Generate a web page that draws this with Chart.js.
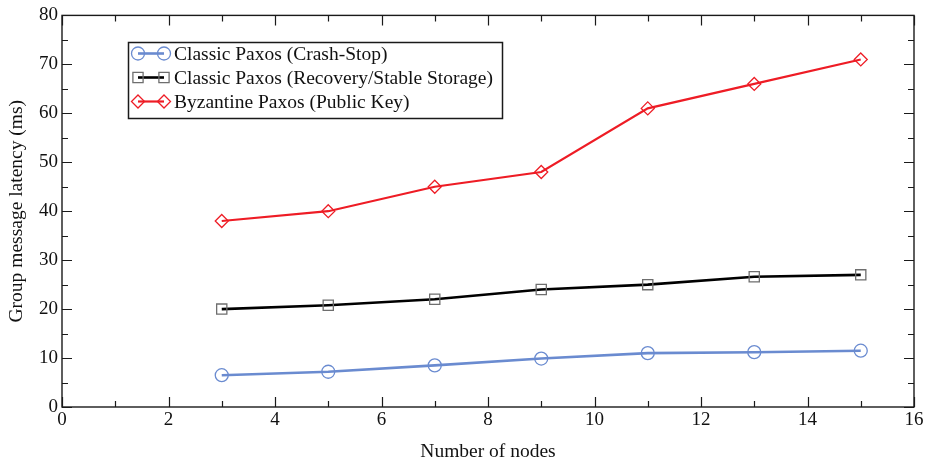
<!DOCTYPE html>
<html>
<head>
<meta charset="utf-8">
<script src="https://cdn.jsdelivr.net/npm/chart.js@4.4.1/dist/chart.umd.min.js"></script>
<style>
  html, body { margin: 0; padding: 0; background: #fff; }
  #wrap { width: 927px; height: 464px; }
</style>
</head>
<body>
<div id="wrap"><canvas id="c" width="927" height="464"></canvas></div>
<script>
// Number of nodes in the group
const nodes = [3, 5, 7, 9, 11, 13, 15];

// Group message latency (ms) per protocol
const crashStop = [6.5, 7.2, 8.5, 9.9, 11.0, 11.2, 11.5];
const recoveryStable = [20.0, 20.8, 22.0, 24.0, 25.0, 26.6, 27.0];
const byzantinePk = [38, 40, 45, 48, 61, 66, 71];

const seriesNames = [
  'Classic Paxos (Crash-Stop)',
  'Classic Paxos (Recovery/Stable Storage)',
  'Byzantine Paxos (Public Key)'
];

const xTickValues = [0, 2, 4, 6, 8, 10, 12, 14, 16];
const yTickValues = [0, 10, 20, 30, 40, 50, 60, 70, 80];

const FONT = '"Liberation Serif", "Times New Roman", serif';

function toPoints(xs, ys) {
  return xs.map((x, i) => ({ x: x, y: ys[i] }));
}

// Markers drawn with an open outline so the line shows through
function drawMarker(ctx, style, x, y, r, stroke) {
  ctx.save();
  ctx.strokeStyle = stroke;
  ctx.lineWidth = 1.3;
  ctx.beginPath();
  if (style === 'circle') {
    ctx.arc(x, y, r, 0, Math.PI * 2);
  } else if (style === 'rect') {
    ctx.rect(x - r * 0.85, y - r * 0.85, r * 1.7, r * 1.7);
  } else if (style === 'rectRot') {
    ctx.moveTo(x, y - r);
    ctx.lineTo(x + r, y);
    ctx.lineTo(x, y + r);
    ctx.lineTo(x - r, y);
    ctx.closePath();
  }
  ctx.stroke();
  ctx.restore();
}

// Inward ticks on all four sides plus the frame
const frameAndTicks = {
  id: 'frameAndTicks',
  afterDatasetsDraw(chart) {
    const { ctx, chartArea: a, scales } = chart;
    const xs = scales.x, ys = scales.y;
    ctx.save();
    ctx.strokeStyle = '#1a1a1a';
    ctx.lineWidth = 1.4;
    ctx.strokeRect(a.left, a.top, a.right - a.left, a.bottom - a.top);
    ctx.lineWidth = 1.2;
    ctx.beginPath();
    for (let v = xs.min; v <= xs.max; v += 1) {
      const px = Math.round(xs.getPixelForValue(v)) + 0.5;
      const len = (v % 2 === 0) ? 10 : 6;
      ctx.moveTo(px, a.bottom); ctx.lineTo(px, a.bottom - len);
      ctx.moveTo(px, a.top); ctx.lineTo(px, a.top + len);
    }
    for (let v = ys.min; v <= ys.max; v += 5) {
      const py = Math.round(ys.getPixelForValue(v)) + 0.5;
      const len = (v % 10 === 0) ? 10 : 6;
      ctx.moveTo(a.left, py); ctx.lineTo(a.left + len, py);
      ctx.moveTo(a.right, py); ctx.lineTo(a.right - len, py);
    }
    ctx.stroke();
    ctx.restore();
  }
};

// Boxed legend inside the plot
const boxLegend = {
  id: 'boxLegend',
  afterDraw(chart) {
    const { ctx } = chart;
    const bx = 128, by = 42, bw = 374, bh = 76;
    ctx.save();
    ctx.fillStyle = '#fff';
    ctx.fillRect(bx, by, bw, bh);
    ctx.strokeStyle = '#1a1a1a';
    ctx.lineWidth = 1.5;
    ctx.strokeRect(bx + 0.5, by + 0.5, bw, bh);
    chart.data.datasets.forEach((ds, i) => {
      const y = by + 11.5 + i * 24;
      const x1 = bx + 10, x2 = bx + 36;
      ctx.strokeStyle = ds.borderColor;
      ctx.lineWidth = ds.borderWidth;
      ctx.beginPath();
      ctx.moveTo(x1, y); ctx.lineTo(x2, y);
      ctx.stroke();
      drawMarker(ctx, ds.pointStyle, x1, y, ds.pointRadius, ds.pointBorderColor);
      drawMarker(ctx, ds.pointStyle, x2, y, ds.pointRadius, ds.pointBorderColor);
      ctx.fillStyle = '#111';
      ctx.font = '19.5px ' + FONT;
      ctx.textBaseline = 'middle';
      ctx.textAlign = 'left';
      ctx.fillText(ds.label, bx + 46, y + 1);
    });
    ctx.restore();
  }
};

// Open markers on the plotted series
const openMarkers = {
  id: 'openMarkers',
  afterDatasetsDraw(chart) {
    const { ctx } = chart;
    chart.data.datasets.forEach((ds, i) => {
      const meta = chart.getDatasetMeta(i);
      meta.data.forEach(pt => {
        drawMarker(ctx, ds.pointStyle, pt.x, pt.y, ds.pointRadius, ds.pointBorderColor);
      });
    });
  }
};

new Chart(document.getElementById('c'), {
  type: 'line',
  data: {
    datasets: [
      {
        label: seriesNames[0],
        data: toPoints(nodes, crashStop),
        borderColor: '#6a8bd0',
        pointBorderColor: '#6a8bd0',
        borderWidth: 2.6,
        pointStyle: 'circle',
        pointRadius: 6.5
      },
      {
        label: seriesNames[1],
        data: toPoints(nodes, recoveryStable),
        borderColor: '#000000',
        pointBorderColor: '#6e6e6e',
        borderWidth: 2.6,
        pointStyle: 'rect',
        pointRadius: 6
      },
      {
        label: seriesNames[2],
        data: toPoints(nodes, byzantinePk),
        borderColor: '#ee1c25',
        pointBorderColor: '#ee1c25',
        borderWidth: 2.2,
        pointStyle: 'rectRot',
        pointRadius: 6.5
      }
    ].map(d => Object.assign(d, {
      fill: false,
      tension: 0,
      pointBackgroundColor: 'rgba(0,0,0,0)',
      pointHoverRadius: 0,
      showLine: true,
      pointBorderWidth: 0
    }))
  },
  options: {
    responsive: false,
    animation: false,
    events: [],
    elements: { point: { radius: 0 } },
    layout: { padding: { top: 13, right: 13, left: 0, bottom: 0 } },
    plugins: {
      legend: { display: false },
      tooltip: { enabled: false }
    },
    scales: {
      x: {
        type: 'linear',
        min: 0, max: 16,
        afterBuildTicks(scale) { scale.ticks = xTickValues.map(v => ({ value: v })); },
        afterFit(scale) { scale.height = 57; },
        grid: { display: false, drawTicks: false },
        border: { display: false },
        ticks: {
          color: '#111',
          padding: 2,
          font: { family: FONT, size: 19 },
          maxRotation: 0,
          autoSkip: false
        },
        title: {
          display: true,
          text: 'Number of nodes',
          color: '#111',
          font: { family: FONT, size: 19.5 },
          padding: { top: 0, bottom: 0 }
        }
      },
      y: {
        type: 'linear',
        min: 0, max: 80,
        afterBuildTicks(scale) { scale.ticks = yTickValues.map(v => ({ value: v })); },
        afterFit(scale) { scale.width = 62; },
        grid: { display: false, drawTicks: false },
        border: { display: false },
        ticks: {
          color: '#111',
          padding: 4,
          font: { family: FONT, size: 19 },
          autoSkip: false
        },
        title: {
          display: true,
          text: 'Group message latency (ms)',
          color: '#111',
          font: { family: FONT, size: 19.5 },
          padding: { top: 5, bottom: 0 }
        }
      }
    }
  },
  plugins: [openMarkers, frameAndTicks, boxLegend]
});
</script>
</body>
</html>
